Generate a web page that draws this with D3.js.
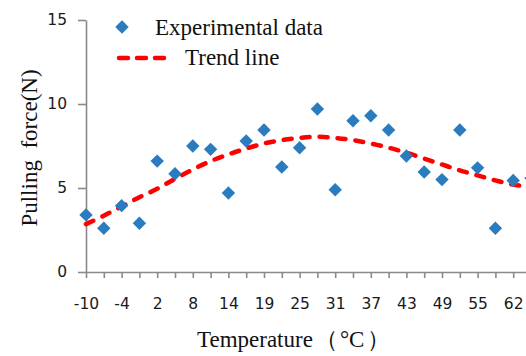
<!DOCTYPE html>
<html>
<head>
<meta charset="utf-8">
<script src="https://cdn.jsdelivr.net/npm/d3@7"></script>
<style>
  body { margin: 0; background: #fff; }
  svg { display: block; }
  .tick text { font-family: "DejaVu Sans", sans-serif; font-size: 15.5px; fill: #1a1a1a; }
  .serif { font-family: "Liberation Serif", "Times New Roman", serif; fill: #111; }
</style>
</head>
<body>
<div id="chart"></div>
<script>
var svgWidth = 526;
var svgHeight = 356;

// temperature categories (only every second one is labelled)
var temps = [-10, -7, -4, -1, 2, 5, 8, 11, 14, 17, 19, 22, 25, 28, 31, 34, 37, 40, 43, 46, 49, 52, 55, 59, 62, 65];
var labelled = [-10, -4, 2, 8, 14, 19, 25, 31, 37, 43, 49, 55, 62];
var force = [3.4, 2.6, 3.95, 2.9, 6.6, 5.85, 7.5, 7.3, 4.7, 7.8, 8.45, 6.25, 7.4, 9.7, 4.9, 9.0, 9.3, 8.45, 6.9, 5.95, 5.5, 8.45, 6.2, 2.6, 5.45, 5.6];
var trend = [2.85, 3.35, 3.9, 4.45, 4.95, 5.55, 6.1, 6.6, 7.0, 7.35, 7.65, 7.85, 7.98, 8.05, 7.98, 7.85, 7.65, 7.4, 7.1, 6.75, 6.4, 6.05, 5.75, 5.45, 5.2, 5.05];
var yTicks = [0, 5, 10, 15];

var margin = { top: 20, left: 86 };
var step = 17.8;
var plotBottom = 272;

var svg = d3.select("#chart")
  .append("svg")
  .attr("width", svgWidth)
  .attr("height", svgHeight);

var x = d3.scalePoint()
  .domain(temps)
  .range([margin.left, margin.left + step * (temps.length - 1)]);

var y = d3.scaleLinear()
  .domain([0, 15])
  .range([plotBottom, margin.top]);

// axes
var xAxis = svg.append("g")
  .attr("transform", `translate(0, ${plotBottom})`)
  .call(d3.axisBottom(x)
    .tickSize(6)
    .tickSizeOuter(0)
    .tickPadding(20)
    .tickFormat(d => labelled.indexOf(d) >= 0 ? d : ""));

var yAxis = svg.append("g")
  .attr("transform", `translate(${margin.left}, 0)`)
  .call(d3.axisLeft(y)
    .tickValues(yTicks)
    .tickSize(8)
    .tickSizeOuter(0)
    .tickPadding(11));

svg.selectAll(".domain, .tick line")
  .attr("stroke", "#8a8a8a")
  .attr("stroke-width", 1.6);

// trend line
var trendLine = d3.line()
  .x((d, i) => x(temps[i]))
  .y(d => y(d))
  .curve(d3.curveCatmullRom);

svg.append("path")
  .datum(trend)
  .attr("d", trendLine)
  .attr("fill", "none")
  .attr("stroke", "#ff0000")
  .attr("stroke-width", 4.5)
  .attr("stroke-linecap", "round")
  .attr("stroke-dasharray", "8,10");

// data points
var diamond = d3.symbol().type(d3.symbolSquare).size(90);

svg.selectAll(".pt")
  .data(force)
  .enter()
  .append("path")
  .attr("class", "pt")
  .attr("d", diamond)
  .attr("transform", (d, i) => `translate(${x(temps[i])}, ${y(d)}) rotate(45)`)
  .attr("fill", "#2b7bbf");

// legend
svg.append("path")
  .attr("d", diamond)
  .attr("transform", "translate(122, 27) rotate(45)")
  .attr("fill", "#2b7bbf");

svg.append("text")
  .attr("class", "serif")
  .attr("x", 155)
  .attr("y", 35)
  .style("font-size", "23px")
  .text("Experimental data");

svg.append("line")
  .attr("x1", 119).attr("x2", 168)
  .attr("y1", 58).attr("y2", 58)
  .attr("stroke", "#ff0000")
  .attr("stroke-width", 4.5)
  .attr("stroke-linecap", "round")
  .attr("stroke-dasharray", "9,9");

svg.append("text")
  .attr("class", "serif")
  .attr("x", 185)
  .attr("y", 65)
  .style("font-size", "23px")
  .text("Trend line");

// axis titles
var xTitle = svg.append("text")
  .attr("class", "serif")
  .attr("x", 197)
  .attr("y", 347)
  .style("font-size", "23px");
xTitle.append("tspan").text("Temperature");
xTitle.append("tspan").attr("dx", 2).text("（");
xTitle.append("tspan").attr("dx", 2).text("°C");
xTitle.append("tspan").attr("dx", 3).text("）");

svg.append("text")
  .attr("class", "serif")
  .attr("transform", "translate(37, 148) rotate(-90)")
  .attr("text-anchor", "middle")
  .style("font-size", "23px")
  .style("white-space", "pre")
  .text("Pulling  force(N)");
</script>
</body>
</html>
